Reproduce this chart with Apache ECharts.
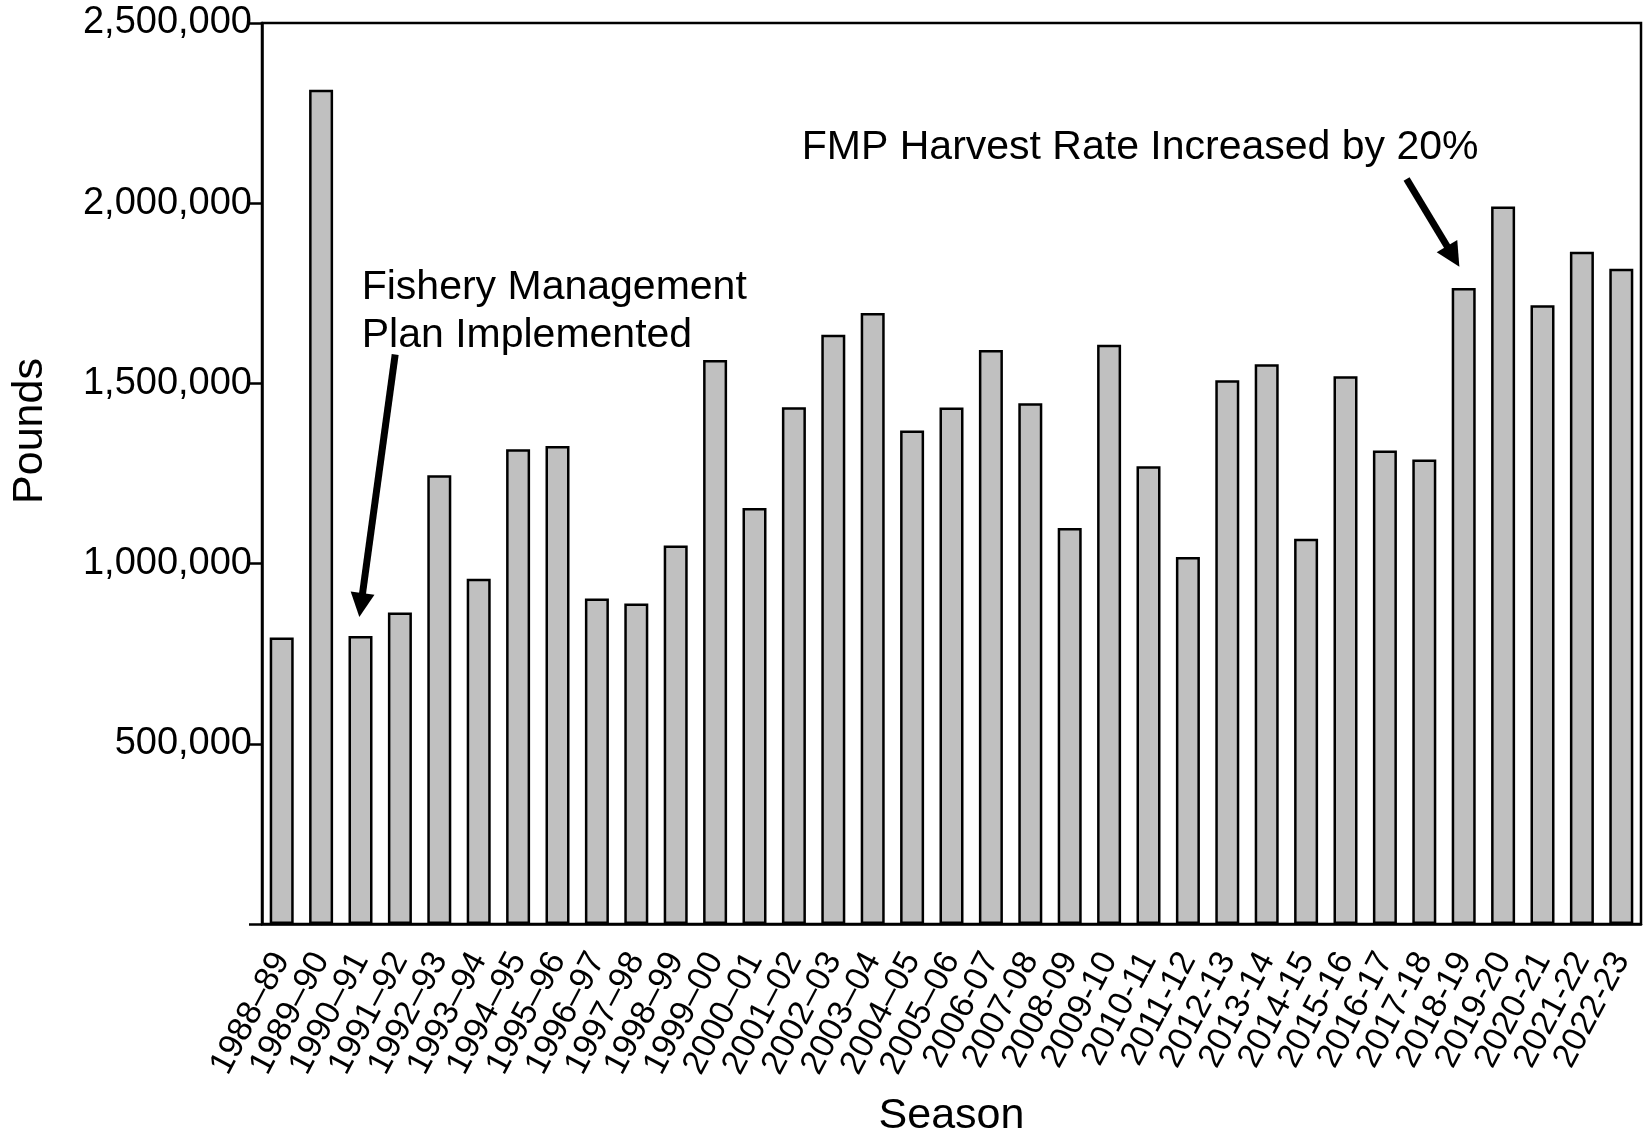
<!DOCTYPE html>
<html>
<head>
<meta charset="utf-8">
<script src="https://cdn.jsdelivr.net/npm/echarts@6/dist/echarts.min.js"></script>
<style>
html, body { margin: 0; padding: 0; background: #fff; }
#chart { width: 1644px; height: 1134px; }
</style>
</head>
<body>
<div id="chart"></div>
<script>
// seasons (en dash up to 2005–06, hyphen afterwards, as in the original)
const seasons = [
    '1988–89', '1989–90', '1990–91', '1991–92', '1992–93', '1993–94', '1994–95',
    '1995–96', '1996–97', '1997–98', '1998–99', '1999–00', '2000–01', '2001–02',
    '2002–03', '2003–04', '2004–05', '2005–06', '2006-07', '2007-08', '2008-09',
    '2009-10', '2010-11', '2011-12', '2012-13', '2013-14', '2014-15', '2015-16',
    '2016-17', '2017-18', '2018-19', '2019-20', '2020-21', '2021-22', '2022-23'
];
const pounds = [
    795000, 2315000, 799000, 864000, 1245000, 958000, 1317000,
    1326000, 903000, 889000, 1050000, 1565000, 1154000, 1434000,
    1635000, 1695000, 1369000, 1433000, 1593000, 1445000, 1099000,
    1607000, 1270000, 1018000, 1509000, 1553000, 1069000, 1520000,
    1314000, 1289000, 1765000, 1991000, 1717000, 1865000, 1818000
];
const yMin = 0, yMax = 2500000, yStep = 500000;

// annotations: [category index (fractional), value]
const note1Lines = ['Fishery Management', 'Plan Implemented'];
const note1Text = [2.03, 1700000];
const note1Arrow = [[2.88, 1580000], [1.97, 852000]];
const note2Lines = ['FMP Harvest Rate Increased by 20%'];
const note2Text = [13.2, 2155000];
const note2Arrow = [[28.55, 2067000], [29.89, 1824000]];

const FONT = '"Liberation Sans", Arial, sans-serif';
const myChart = echarts.init(document.getElementById('chart'));

myChart.setOption({
    animation: false,
    backgroundColor: '#fff',
    textStyle: { fontFamily: FONT, color: '#000' },
    grid: {
        left: 262, top: 23, right: 3, bottom: 210,
        containLabel: false, outerBoundsMode: 'none',
        show: true, borderColor: '#000', borderWidth: 2.5
    },
    xAxis: {
        type: 'category',
        data: seasons,
        name: 'Season',
        nameLocation: 'middle',
        nameGap: 171,
        nameMoveOverlap: false,
        nameTextStyle: { fontSize: 43, color: '#000', fontFamily: FONT },
        axisLine: { lineStyle: { color: '#000', width: 2.5 } },
        axisTick: { alignWithLabel: true, length: 14, lineStyle: { color: '#000', width: 2.5 } },
        axisLabel: {
            interval: 0, rotate: 62, margin: 31,
            padding: [32, 0, 0, 0],
            fontSize: 34, color: '#000', fontFamily: FONT
        }
    },
    yAxis: {
        type: 'value',
        min: yMin, max: yMax, interval: yStep,
        splitLine: { show: false },
        axisLine: { show: true, lineStyle: { color: '#000', width: 2.5 } },
        axisTick: { show: true, length: 13, lineStyle: { color: '#000', width: 2.5 } },
        axisLabel: {
            margin: 10, fontSize: 38, color: '#000', fontFamily: FONT,
            formatter: v => v === 0 ? '' : v.toLocaleString('en-US')
        }
    },
    series: [{
        type: 'bar',
        data: pounds,
        barWidth: 24,
        itemStyle: { color: '#c0c0c0', borderColor: '#000', borderWidth: 2.5 }
    }]
});

// category index may be fractional: interpolate between neighbouring ticks
function toPx(pt) {
    const i0 = Math.floor(pt[0]);
    const a = myChart.convertToPixel({ gridIndex: 0 }, [i0, pt[1]]);
    const b = myChart.convertToPixel({ gridIndex: 0 }, [i0 + 1, pt[1]]);
    return [a[0] + (b[0] - a[0]) * (pt[0] - i0), a[1]];
}

function arrow(from, to) {
    const p0 = toPx(from), p1 = toPx(to);
    const dx = p1[0] - p0[0], dy = p1[1] - p0[1];
    const len = Math.sqrt(dx * dx + dy * dy);
    const ux = dx / len, uy = dy / len;
    const headLen = 24, halfW = 12;
    const bx = p1[0] - ux * headLen, by = p1[1] - uy * headLen;
    return [
        {
            type: 'line',
            shape: { x1: p0[0], y1: p0[1], x2: bx + ux * 2, y2: by + uy * 2 },
            style: { stroke: '#000', lineWidth: 7 }
        },
        {
            type: 'polygon',
            shape: { points: [p1, [bx - uy * halfW, by + ux * halfW], [bx + uy * halfW, by - ux * halfW]] },
            style: { fill: '#000' }
        }
    ];
}

function noteText(lines, pt) {
    const p = toPx(pt);
    return {
        type: 'text',
        x: p[0], y: p[1],
        style: {
            text: lines.join('\n'),
            font: '41px ' + FONT,
            lineHeight: 48,
            fill: '#000',
            align: 'left',
            verticalAlign: 'middle'
        }
    };
}

myChart.setOption({
    graphic: [
        noteText(note1Lines, note1Text),
        ...arrow(note1Arrow[0], note1Arrow[1]),
        noteText(note2Lines, note2Text),
        ...arrow(note2Arrow[0], note2Arrow[1]),
        {
            type: 'text',
            x: 30, y: 431,
            rotation: Math.PI / 2,
            style: {
                text: 'Pounds',
                font: '43px ' + FONT,
                fill: '#000',
                align: 'center',
                verticalAlign: 'middle'
            }
        }
    ]
});

window.addEventListener('resize', () => {
    myChart.resize();
});
</script>
</body>
</html>
